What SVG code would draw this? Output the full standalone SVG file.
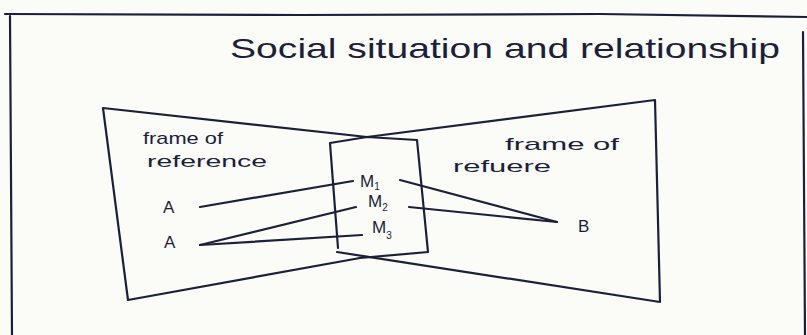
<svg xmlns="http://www.w3.org/2000/svg" width="807" height="335" viewBox="0 0 807 335">
<style>
.ink{fill:none;stroke:#1c1f3a;stroke-width:2.2;stroke-linecap:round;stroke-linejoin:round}
.t{font-family:"Liberation Sans","DejaVu Sans",sans-serif;fill:#1c1f3a}
.lbl{font-size:17px}
.sub{font-size:10px}
</style>
<rect width="807" height="335" fill="#fbfbf8"/>
<g id="border">
<path class="ink" d="M5,14 L300,15 L600,14 L807,17"/>
<path class="ink" d="M10,16 L12,335"/>
<path class="ink" d="M803,32 L805,335"/>
</g>
<g id="title">
<text class="t" x="230" y="58" font-size="28" textLength="550" lengthAdjust="spacingAndGlyphs">Social situation and relationship</text>
</g>
<g id="left-frame">
<path class="ink" d="M103,108 L367,137 M103,108 L128,300 L360,258"/>
<text class="t lbl" x="143" y="144" textLength="80" lengthAdjust="spacingAndGlyphs">frame of</text>
<text class="t lbl" x="147" y="167" textLength="120" lengthAdjust="spacingAndGlyphs">reference</text>
</g>
<g id="right-frame">
<path class="ink" d="M367,137 L655,100 L660,302 L337,252"/>
<text class="t lbl" x="505" y="150" textLength="114" lengthAdjust="spacingAndGlyphs">frame of</text>
<text class="t lbl" x="453" y="172" textLength="98" lengthAdjust="spacingAndGlyphs">refuere</text>
</g>
<g id="middle">
<path class="ink" d="M330,143 L367,137 L417,140 L428,252 L360,258 M330,143 L338,248"/>
</g>
<g id="M1"><text class="t lbl" x="360" y="187">M<tspan class="sub" dy="3">1</tspan></text></g>
<g id="M2"><text class="t lbl" x="368" y="207">M<tspan class="sub" dy="4">2</tspan></text></g>
<g id="M3"><text class="t lbl" x="372" y="233">M<tspan class="sub" dy="6">3</tspan></text></g>
<g id="A1"><text class="t lbl" x="163" y="213">A</text></g>
<g id="A2"><text class="t lbl" x="164" y="248">A</text></g>
<g id="B"><text class="t lbl" x="578" y="232">B</text></g>
<g id="connectors">
<path class="ink" d="M200,207 L353,181"/>
<path class="ink" d="M200,245 L356,207"/>
<path class="ink" d="M200,245 L362,235"/>
<path class="ink" d="M400,180 L557,222"/>
<path class="ink" d="M409,207 L557,222"/>
</g>
</svg>
